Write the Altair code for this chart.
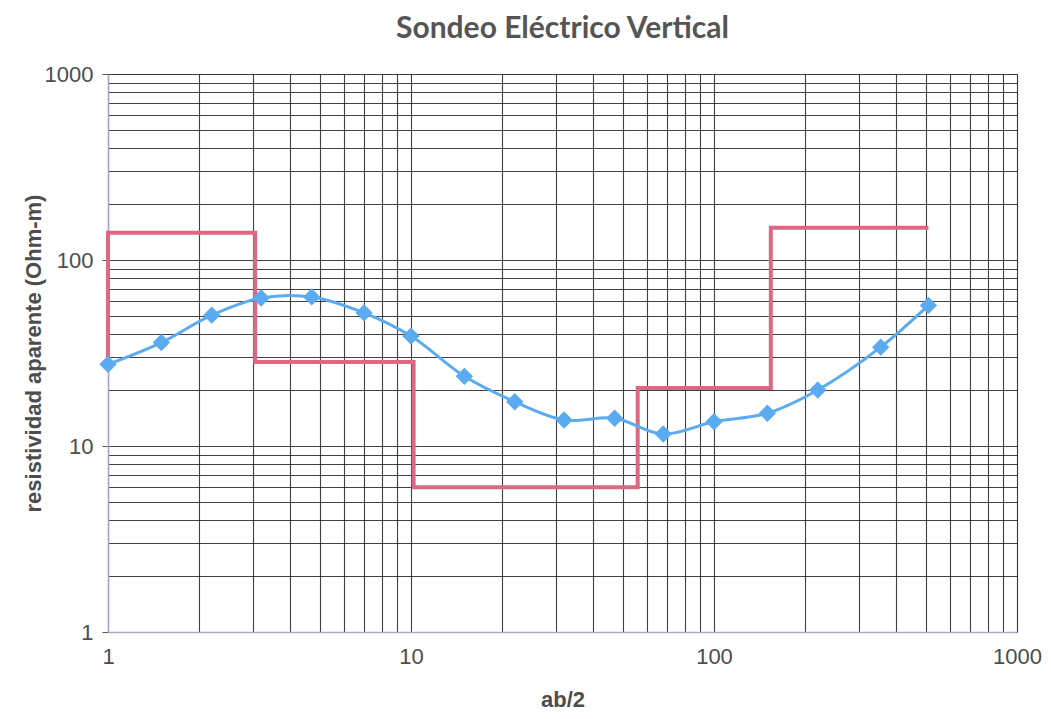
import altair as alt
import pandas as pd

# Measured apparent resistivity (blue curve)
ab2 = [1, 1.5, 2.2, 3.2, 4.7, 7, 10, 15, 22, 32, 47, 68, 100, 150, 220, 355, 510]
rho_a = [27.5, 36, 50.5, 62.5, 63.3, 52, 39, 23.7, 17.3, 13.8, 14.1, 11.6, 13.5, 15.0, 20.0, 34, 57]

# Layered model (red step line): start depth of each layer and its resistivity
model_x = [1, 1, 3.06, 10.2, 56, 154, 510]
model_rho = [27.5, 140, 28.3, 6.0, 20.5, 149, 149]

tick_vals = [m * k for m in [1, 10, 100] for k in range(1, 10)] + [1000]

meas = pd.DataFrame({"ab2": ab2, "rho": rho_a, "i": list(range(len(ab2)))})
model = pd.DataFrame({"ab2": model_x, "rho": model_rho, "i": list(range(len(model_x)))})

label_expr = "indexof([1,10,100,1000], datum.value) >= 0 ? format(datum.value, 'd') : ''"
major_test = "indexof([1,10,100,1000], datum.value) >= 0"

xscale = alt.Scale(type="log", domain=[1, 1000], nice=False)
yscale = alt.Scale(type="log", domain=[1, 1000], nice=False)

xaxis = alt.Axis(
    title="ab/2", values=tick_vals, labelExpr=label_expr, labelOverlap=False,
    labelFlush=False, ticks=False, labelPadding=14,
    labelFont="Liberation Sans", labelFontSize=22, labelColor="#4d4d4d",
    titleFont="Liberation Sans", titleFontSize=22, titleFontWeight="bold",
    titleColor="#4d4d4d", titleY=57, titleBaseline="top",
    grid=True, gridColor="#111111", gridOpacity=0.8, gridWidth=1.1,
    domainColor="#a8a8c8", domainWidth=1.5,
)
yaxis = alt.Axis(
    title="resistividad aparente (Ohm-m)", values=tick_vals, labelExpr=label_expr,
    labelOverlap=False, labelFlush=False, tickSize=6, tickColor="#555555",
    tickOpacity={"condition": {"test": major_test, "value": 1}, "value": 0},
    labelPadding=9,
    labelFont="Liberation Sans", labelFontSize=22, labelColor="#4d4d4d",
    titleFont="Liberation Sans", titleFontSize=22, titleFontWeight="bold",
    titleColor="#4d4d4d", titleX=-63,
    grid=True, gridColor="#111111", gridOpacity=0.8, gridWidth=1.1,
    domainColor="#a8a8c8", domainWidth=1.5,
)

base_x = alt.X("ab2:Q", scale=xscale, axis=xaxis)
base_y = alt.Y("rho:Q", scale=yscale, axis=yaxis)

red = alt.Chart(model).mark_line(color="#de6783", strokeWidth=4, interpolate="step-after").encode(
    x=base_x, y=base_y, order="i:Q"
)
blue_line = alt.Chart(meas).mark_line(color="#5aabf0", strokeWidth=3, interpolate="catmull-rom").encode(
    x=alt.X("ab2:Q", scale=xscale), y=alt.Y("rho:Q", scale=yscale), order="i:Q"
)
blue_pts = alt.Chart(meas).mark_point(shape="diamond", filled=True, size=300, color="#5aabf0", opacity=1).encode(
    x=alt.X("ab2:Q", scale=xscale), y=alt.Y("rho:Q", scale=yscale)
)

chart = alt.layer(red, blue_line, blue_pts).properties(
    width=909, height=558,
    title=alt.TitleParams("Sondeo Eléctrico Vertical", font="Lato", fontSize=30,
                          fontWeight="bold", color="#555555", anchor="middle",
                          offset=19),
    autosize="none",
    padding={"left": 100, "top": 66, "right": 26, "bottom": 79},
).configure_view(stroke="#a8a8c8", strokeWidth=1.5).configure(background="white")

chart.save("out.html", embed_options={"renderer": "svg", "actions": False})
